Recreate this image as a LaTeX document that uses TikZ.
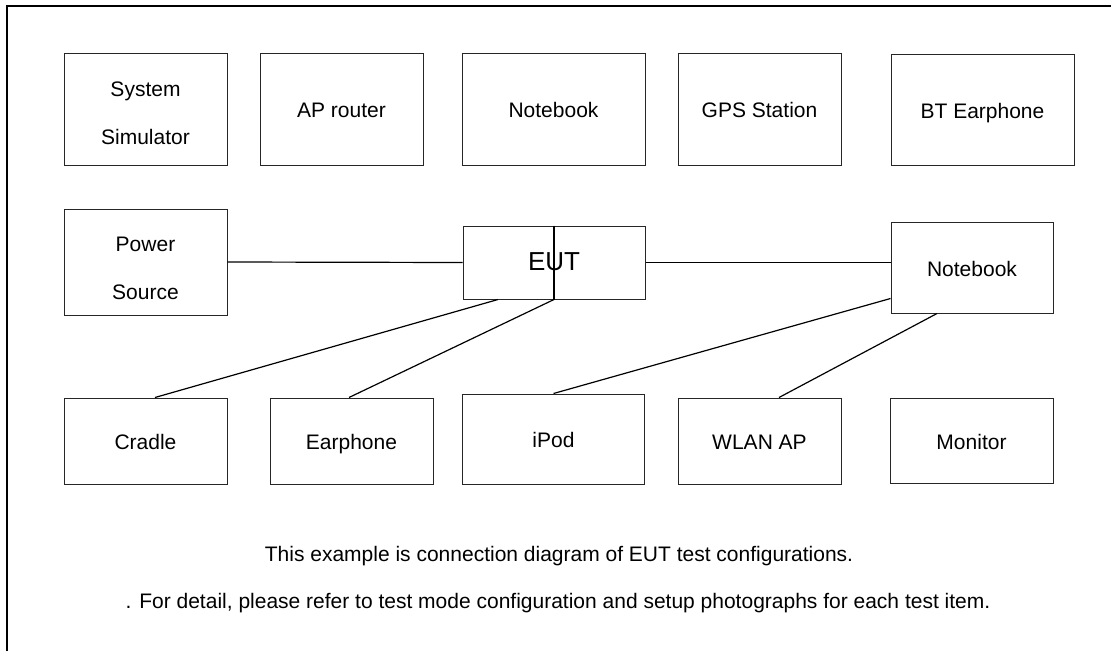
\documentclass[tikz,border=0pt]{standalone}
\usepackage{fontspec}
\setmainfont{Liberation Sans}
\begin{document}
\begin{tikzpicture}[x=1pt,y=-1pt,
  box/.style={draw=black!85, line width=1pt, inner sep=0pt, align=center,
    font=\fontsize{21}{48}\selectfont},
  one/.style={text height=17pt, text depth=0pt},
  wire/.style={draw=black, line width=1.2pt},
  note/.style={inner sep=0pt, text height=17pt, text depth=0pt, font=\fontsize{21}{25}\selectfont}]
\useasboundingbox (0,0) rectangle (1111,651);
\fill[white] (0,0) rectangle (1111,651);
% frame
\coordinate (fbl) at (6.5,651);
\coordinate (ftl) at (6.5,5.5);
\coordinate (ftr) at (1111,5.5);
\draw[line width=2pt, black] (fbl) -- (ftl) -- (ftr);
% top row
\node[box, minimum width=163pt, minimum height=112pt] (sys) at (145.5,109) {\rule{0pt}{22.5pt}System\\Simulator};
\node[box, one, minimum width=163pt, minimum height=112pt] (ap) at (341.5,109) {AP router};
\node[box, one, minimum width=183pt, minimum height=112pt] (nbtop) at (553.5,109) {Notebook};
\node[box, one, minimum width=163pt, minimum height=112pt] (gps) at (759.5,109) {GPS Station};
\node[box, one, minimum width=183pt, minimum height=111pt] (bt) at (982.5,109.5) {BT Earphone};
% middle row
\node[box, minimum width=163pt, minimum height=106pt] (ps) at (145.5,262) {\rule{0pt}{27.5pt}Power\\Source};
\node[box, minimum width=182pt, minimum height=73pt, text height=18.6pt, text depth=3pt, font=\fontsize{26}{30}\selectfont] (eut) at (554,262.5) {EUT};
\node[box, one, minimum width=162pt, minimum height=91pt] (nb) at (972,267.5) {Notebook};
% bottom row
\node[box, one, minimum width=163pt, minimum height=86pt] (cr) at (145.5,441) {Cradle};
\node[box, one, minimum width=163pt, minimum height=86pt] (ear) at (351.5,441) {Earphone};
\node[box, one, minimum width=182pt, minimum height=90pt] (ipod) at (553.5,439) {iPod};
\node[box, one, minimum width=163pt, minimum height=86pt] (wlan) at (759.5,441) {WLAN AP};
\node[box, one, minimum width=163pt, minimum height=85pt] (mon) at (971.5,440.5) {Monitor};
% notes
\node[note] (t1) at (559,553) {This example is connection diagram of EUT test configurations.};
\node[note] (t2) at (558,600) {. For detail, please refer to test mode configuration and setup photographs for each test item.};
% connectors
\draw[wire] (ps.east) -- (eut.west);
\draw[wire] (eut.east) -- (eut.east -| nb.west);
\draw[wire] (eut.north) -- (eut.south);
\draw[wire] ([xshift=9.5pt]cr.north) -- ([xshift=-56pt]eut.south);
\draw[wire] ([xshift=-2.5pt]ear.north) -- (eut.south);
\draw[wire] (ipod.north) -- ([yshift=15pt]nb.south west);
\draw[wire] ([xshift=19.5pt]wlan.north) -- ([xshift=-35pt]nb.south);
\end{tikzpicture}
\end{document}
